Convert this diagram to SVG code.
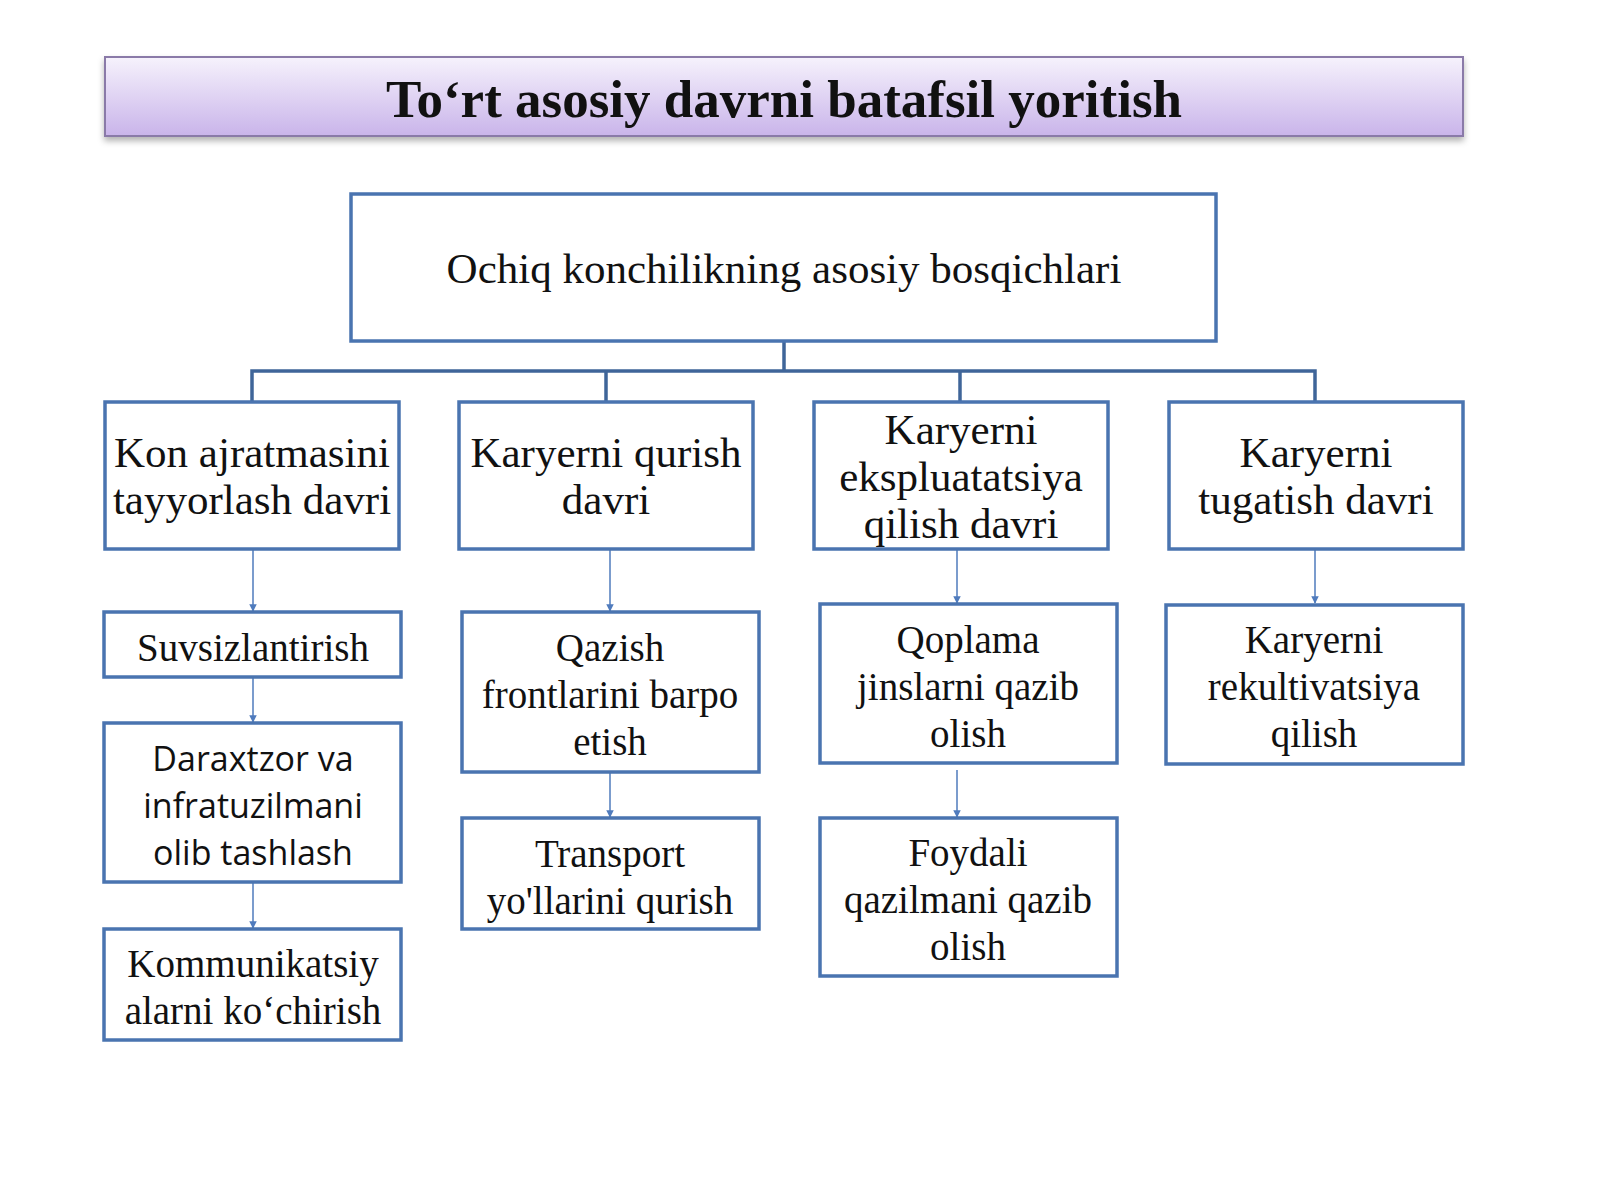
<svg xmlns="http://www.w3.org/2000/svg" width="1600" height="1200" viewBox="0 0 1600 1200">
<defs>
<linearGradient id="tg" x1="0" y1="0" x2="0" y2="1"><stop offset="0" stop-color="#f6f2fc"/><stop offset="1" stop-color="#c9b4ea"/></linearGradient>
<marker id="ah" viewBox="0 0 10 10" refX="9" refY="5" markerWidth="5" markerHeight="5" orient="auto"><path d="M0,0 L10,5 L0,10 z" fill="#4f7bbd"/></marker>
<filter id="sh" x="-5%" y="-20%" width="110%" height="150%"><feDropShadow dx="0" dy="4" stdDeviation="3" flood-color="#000" flood-opacity="0.3"/></filter>
</defs>
<style>
.b{fill:#fff;stroke:#4a74b0;stroke-width:3.5}
.t{font-family:"Liberation Serif",serif;font-size:43px;fill:#111;text-anchor:middle}
.s{font-family:"Liberation Serif",serif;font-size:39px;fill:#111;text-anchor:middle}
.o{font-family:"Open Sans","DejaVu Sans",sans-serif;font-size:34px;fill:#111;text-anchor:middle}
.c{stroke:#4f7bbd;stroke-width:1.5;fill:none}
.k{stroke:#3f6599;stroke-width:3.5;fill:none}
</style>
<rect width="1600" height="1200" fill="#fff"/>
<g id="title">
<rect x="105" y="57" width="1358" height="79" fill="url(#tg)" stroke="#8a7aa8" stroke-width="2" filter="url(#sh)"/>
<text x="784" y="117" font-family="Liberation Serif,serif" font-weight="bold" font-size="53" text-anchor="middle" fill="#111">To‘rt asosiy davrni batafsil yoritish</text>
</g>
<g id="connectors">
<path class="k" d="M784,341 V371 M252,402 V371 H1315 V402 M606,371 V402 M960,371 V402"/>
<path class="c" marker-end="url(#ah)" d="M253,549 V611"/>
<path class="c" marker-end="url(#ah)" d="M253,677 V722"/>
<path class="c" marker-end="url(#ah)" d="M253,882 V928"/>
<path class="c" marker-end="url(#ah)" d="M610,549 V611"/>
<path class="c" marker-end="url(#ah)" d="M610,772 V817"/>
<path class="c" marker-end="url(#ah)" d="M957,549 V603"/>
<path class="c" marker-end="url(#ah)" d="M957,770 V817"/>
<path class="c" marker-end="url(#ah)" d="M1315,549 V603"/>
</g>
<g id="root"><rect class="b" x="351" y="194" width="865" height="147"/><text class="t" x="784" y="283">Ochiq konchilikning asosiy bosqichlari</text></g>
<g id="p1"><rect class="b" x="105" y="402" width="294" height="147"/><text class="t" x="252" y="467">Kon ajratmasini</text><text class="t" x="252" y="514">tayyorlash davri</text></g>
<g id="p2"><rect class="b" x="459" y="402" width="294" height="147"/><text class="t" x="606" y="467">Karyerni qurish</text><text class="t" x="606" y="514">davri</text></g>
<g id="p3"><rect class="b" x="814" y="402" width="294" height="147"/><text class="t" x="961" y="444">Karyerni</text><text class="t" x="961" y="491">ekspluatatsiya</text><text class="t" x="961" y="538">qilish davri</text></g>
<g id="p4"><rect class="b" x="1169" y="402" width="294" height="147"/><text class="t" x="1316" y="467">Karyerni</text><text class="t" x="1316" y="514">tugatish davri</text></g>
<g id="a1"><rect class="b" x="104" y="612" width="297" height="65"/><text class="s" x="253" y="661">Suvsizlantirish</text></g>
<g id="a2"><rect class="b" x="104" y="723" width="297" height="159"/><text class="o" x="253" y="771">Daraxtzor va</text><text class="o" x="253" y="818">infratuzilmani</text><text class="o" x="253" y="865">olib tashlash</text></g>
<g id="a3"><rect class="b" x="104" y="929" width="297" height="111"/><text class="s" x="253" y="977">Kommunikatsiy</text><text class="s" x="253" y="1024">alarni ko‘chirish</text></g>
<g id="b1"><rect class="b" x="462" y="612" width="297" height="160"/><text class="s" x="610" y="661">Qazish</text><text class="s" x="610" y="708">frontlarini barpo</text><text class="s" x="610" y="755">etish</text></g>
<g id="b2"><rect class="b" x="462" y="818" width="297" height="111"/><text class="s" x="610" y="867">Transport</text><text class="s" x="610" y="914">yo'llarini qurish</text></g>
<g id="c1"><rect class="b" x="820" y="604" width="297" height="159"/><text class="s" x="968" y="653">Qoplama</text><text class="s" x="968" y="700">jinslarni qazib</text><text class="s" x="968" y="747">olish</text></g>
<g id="c2"><rect class="b" x="820" y="818" width="297" height="158"/><text class="s" x="968" y="866">Foydali</text><text class="s" x="968" y="913">qazilmani qazib</text><text class="s" x="968" y="960">olish</text></g>
<g id="d1"><rect class="b" x="1166" y="605" width="297" height="159"/><text class="s" x="1314" y="653">Karyerni</text><text class="s" x="1314" y="700">rekultivatsiya</text><text class="s" x="1314" y="747">qilish</text></g>
</svg>
